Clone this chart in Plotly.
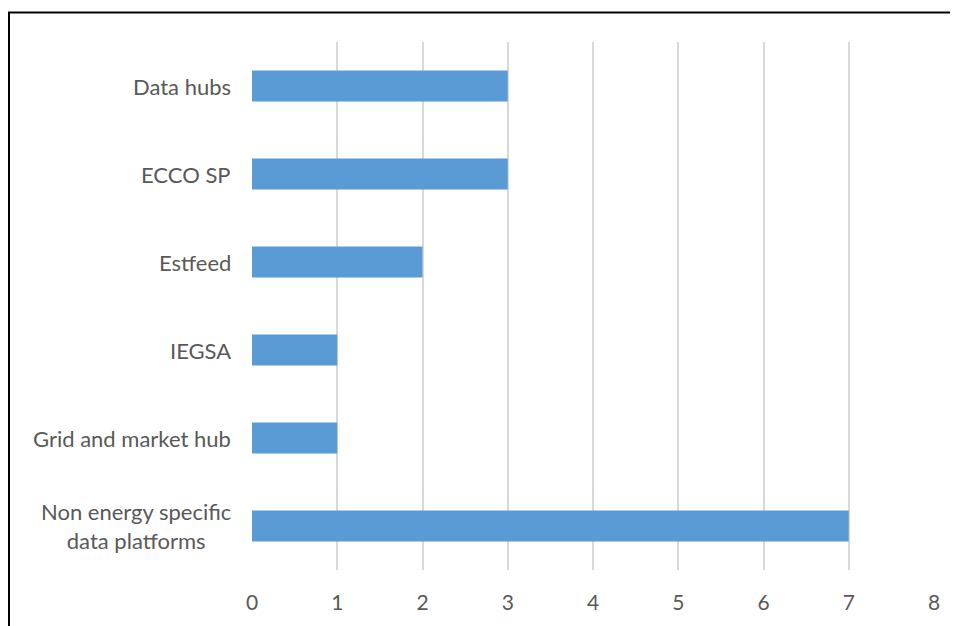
import plotly.graph_objects as go

categories = ["Data hubs", "ECCO SP", "Estfeed", "IEGSA", "Grid and market hub",
              "Non energy specific<br>data platforms"]
values = [3, 3, 2, 1, 1, 7]
x_ticks = [0, 1, 2, 3, 4, 5, 6, 7, 8]

FONT = "Lato"
GRAY = "#595959"

# page is rendered with an 8px body offset; margins compensate for it
W, H = 966, 634
L, R, T, B = 244, 40, 34, 72
PW = W - L - R
PH = H - T - B

fig = go.Figure()
fig.add_trace(go.Bar(
    x=values, y=categories, orientation="h",
    marker=dict(color="#5B9BD5", line=dict(width=0)),
    width=0.35,
))

for c in categories:
    fig.add_annotation(
        x=0, xref="paper", xshift=-19, xanchor="right",
        y=c, yref="y", text=c, showarrow=False, align="center",
        font=dict(family=FONT, size=22, color=GRAY),
    )

fig.add_shape(type="rect", xref="paper", yref="paper",
              x0=(1 - L) / PW, x1=(1000 - L) / PW,
              y0=-(B + 40) / PH, y1=1 + (T - 4.5) / PH,
              line=dict(color="black", width=2), layer="above")

fig.update_layout(
    width=W, height=H,
    margin=dict(l=L, r=R, t=T, b=B),
    paper_bgcolor="white", plot_bgcolor="white",
    showlegend=False,
    font=dict(family=FONT, size=21, color=GRAY),
    xaxis=dict(range=[0, 8], tickvals=x_ticks, showgrid=True, gridcolor="#d9d9d9",
               gridwidth=1.5, zeroline=False, showline=False, ticks="",
               ticklabelstandoff=18, tickfont=dict(family=FONT, size=21, color=GRAY)),
    yaxis=dict(autorange="reversed", showticklabels=False, showgrid=False,
               zeroline=False, showline=False, ticks=""),
)

fig.write_html("out.html")
